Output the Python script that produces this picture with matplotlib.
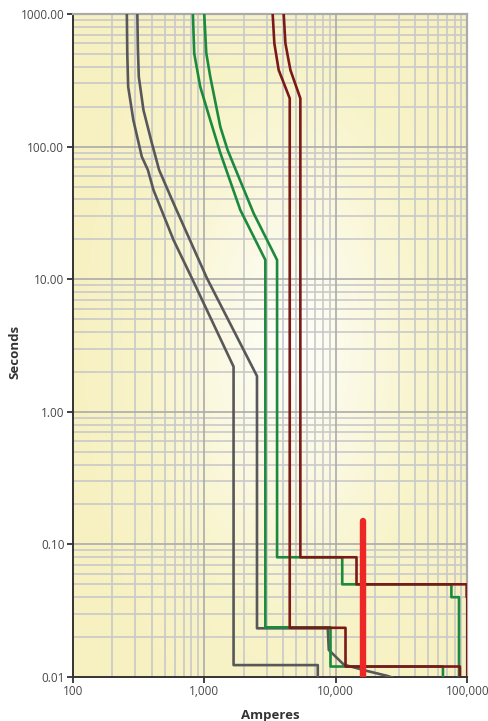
import numpy as np
import matplotlib
matplotlib.use("Agg")
import matplotlib.pyplot as plt
from matplotlib.colors import LinearSegmentedColormap
from matplotlib.ticker import FixedLocator, NullLocator, FixedFormatter

# ---- data (Amperes, Seconds) ----
gray1_x = [258, 260, 264, 289, 335, 373, 411, 584, 806, 1671, 1671, 7300, 7300]
gray1_y = [1000, 500, 283, 158.6, 84, 66.6, 47.1, 19.75, 10.16, 2.19, 0.0123, 0.0123, 0.01]

gray2_x = [310, 313, 318, 345, 400, 454, 584, 1049, 2518, 2518, 8690, 8850, 11510, 17350, 24600, 27000]
gray2_y = [1000, 550, 336.6, 188.7, 105.9, 66.6, 37.4, 10.16, 1.86, 0.0233, 0.0233, 0.016, 0.0124, 0.0111, 0.0102, 0.0099]

green1_x = [820, 839, 932, 1111, 1325, 1879, 2915, 2915, 9120, 9120, 65300, 65300]
green1_y = [1000, 505, 283, 158.6, 89.6, 33.3, 13.96, 0.0237, 0.0237, 0.012, 0.012, 0.01]

green2_x = [1000, 1036, 1111, 1325, 1505, 2374, 3579, 3579, 11200, 11200, 75700, 75700, 86500, 86500]
green2_y = [1000, 508, 336.6, 141, 94.3, 31.4, 13.96, 0.08, 0.08, 0.05, 0.05, 0.04, 0.04, 0.01]

red1_x = [3313, 3412, 3681, 4467, 4467, 11860, 11860, 87900, 87900]
red1_y = [1000, 601, 378, 231, 0.0235, 0.0235, 0.012, 0.012, 0.01]

red2_x = [4018, 4140, 4520, 5380, 5380, 14380, 14380, 98900, 98900, 100000, 100000]
red2_y = [1000, 601, 378, 231, 0.08, 0.08, 0.05, 0.05, 0.04, 0.04, 0.01]

fault_x = [16200, 16200]
fault_y = [0.151, 0.01]

x_ticks = [100, 1000, 10000, 100000]
x_labels = ["100", "1,000", "10,000", "100,000"]
y_ticks = [0.01, 0.1, 1, 10, 100, 1000]
y_labels = ["0.01", "0.10", "1.00", "10.00", "100.00", "1000.00"]

plt.rcParams['font.family'] = ['Open Sans', 'DejaVu Sans']

fig = plt.figure(figsize=(4.89, 7.21), dpi=100)
ax = fig.add_axes([0.1487, 0.061, 0.9556 - 0.1487, 0.9806 - 0.061])
ax.set_xscale('log')
ax.set_yscale('log')
ax.set_xlim(100, 100000)
ax.set_ylim(0.01, 1000)

# radial background gradient
ny, nx = 400, 300
yy, xx = np.mgrid[0:1:ny*1j, 0:1:nx*1j]
cx, cy = 0.55, 0.50
r = np.sqrt(((xx - cx) / 0.55) ** 2 + ((yy - cy) / 0.62) ** 2)
r = np.clip(r, 0, 1)
cmap = LinearSegmentedColormap.from_list('bg', ['#FFFFFD', '#FBF9E2', '#F8F4C9', '#F7F1C2'])
ax.imshow(r, cmap=cmap, extent=[0, 1, 0, 1], transform=ax.transAxes,
          aspect='auto', zorder=0, origin='lower', vmin=0, vmax=1)

# grid
minor_x = [m * 10 ** e for e in range(2, 5) for m in range(2, 10)]
minor_y = [m * 10.0 ** e for e in range(-2, 3) for m in range(2, 10)]
for v in minor_x:
    ax.axvline(v, color='#C9C9C9', lw=1.2, zorder=1)
for v in minor_y:
    ax.axhline(v, color='#C9C9C9', lw=1.2, zorder=1)
for v in x_ticks[1:-1]:
    ax.axvline(v, color='#ABABAB', lw=1.2, zorder=1)
for v in y_ticks[1:-1]:
    ax.axhline(v, color='#ABABAB', lw=1.2, zorder=1)

for s in ['left', 'bottom']:
    ax.spines[s].set_color('#333333')
    ax.spines[s].set_linewidth(1.4)
    ax.spines[s].set_zorder(2)
for s in ['top', 'right']:
    ax.spines[s].set_color('#AAAAAA')
    ax.spines[s].set_linewidth(1.6)
    ax.spines[s].set_zorder(2)

gray = '#58585A'
green = '#1B8A3E'
dred = '#7B1818'
lw = 1.9
ax.plot(gray1_x, gray1_y, color=gray, lw=lw, zorder=3)
ax.plot(gray2_x, gray2_y, color=gray, lw=lw, zorder=3)
ax.plot(green1_x, green1_y, color=green, lw=lw, zorder=3)
ax.plot(green2_x, green2_y, color=green, lw=lw, zorder=3)
ax.plot(red1_x, red1_y, color=dred, lw=lw, zorder=3)
ax.plot(red2_x, red2_y, color=dred, lw=lw, zorder=3)
ax.plot(fault_x, fault_y, color='#EE2626', lw=4.6, solid_capstyle='round', zorder=4)

# ticks
ax.xaxis.set_major_locator(FixedLocator(x_ticks))
ax.xaxis.set_major_formatter(FixedFormatter(x_labels))
ax.xaxis.set_minor_locator(NullLocator())
ax.yaxis.set_major_locator(FixedLocator(y_ticks))
ax.yaxis.set_major_formatter(FixedFormatter(y_labels))
ax.yaxis.set_minor_locator(NullLocator())
ax.tick_params(axis='both', which='major', length=4, width=1.3, color='#333333',
               labelsize=8.5, labelcolor='#484848', pad=2)

ax.set_xlabel('Amperes', fontsize=9.5, fontweight='bold', color='#333333')
ax.set_ylabel('Seconds', fontsize=9.5, fontweight='bold', color='#333333')
ax.xaxis.set_label_coords(0.5, -0.048)
ax.yaxis.set_label_coords(-0.13, 0.49)

fig.savefig('out.png', dpi=100)
